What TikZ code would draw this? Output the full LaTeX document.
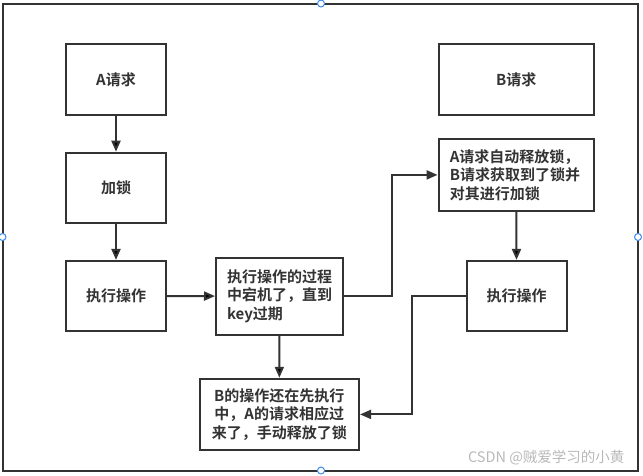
\documentclass[tikz,border=0pt]{standalone}
\usepackage{fontspec}
\newfontfamily\cjk{Noto Sans CJK SC}[BoldFont={* Bold}]
\usepackage{xcolor}
\usepackage{tikz}
\usetikzlibrary{arrows.meta}
\definecolor{ink}{HTML}{333333}
\definecolor{handle}{HTML}{3C8CF0}

\begin{document}
\begin{tikzpicture}[x=1pt,y=-1pt,
		box/.style={draw=ink,line width=2pt,inner sep=0pt,minimum width=100pt,minimum height=70pt,
			text=ink,font=\cjk\bfseries\fontsize{15}{18.4}\selectfont},
		knob/.style={draw=handle,fill=white,line width=1pt,circle,inner sep=0pt,minimum size=7pt}]
		\useasboundingbox (0,0) rectangle (643,475);
		\draw[ink,line width=2pt] (2.5,3.5) rectangle (638,470.5);
		%
		\node[box,minimum height=71pt] (Areq) at (116,79.8) {A请求};
		\node[box] (lock) at (116,187.7) {加锁};
		\node[box] (Aexec) at (116,295.9) {执行操作};
		\node[box,minimum width=127pt,minimum height=77pt,text width=105pt,align=left] (crash) at (279.5,296.2)
			{执行操作的过程\\中宕机了，直到\\key过期};
		\node[box,minimum width=159.5pt,minimum height=71.3pt,align=center] (unlock) at (279.3,414.4)
			{B的操作还在先执行\\中，A的请求相应过\\来了，手动释放了锁};
		\node[box,minimum width=155.5pt,minimum height=71pt] (Breq) at (516.3,79.8) {B请求};
		\node[box,minimum width=155.5pt,minimum height=72.3pt,text width=133pt,align=left] (Block) at (516.3,174.9)
			{A请求自动释放锁，\\B请求获取到了锁并\\对其进行加锁};
		\node[box] (Bexec) at (516.6,295.9) {执行操作};
		%
		\path[draw=ink,line width=2pt,->,>={Triangle[length=11pt,width=9pt]}]
		(Areq) edge (lock)
		(lock) edge (Aexec)
		(Aexec) edge (crash)
		(crash) edge (unlock)
		(Block) edge (Bexec);
		\draw[ink,line width=2pt,-{Triangle[length=11pt,width=9pt]}]
		(crash.east) -- ++(47.6,0) |- (Block.west);
		\draw[ink,line width=2pt,-{Triangle[length=11pt,width=9pt]}]
		(Bexec.west) -- ++(-53.7,0) |- (unlock.east);
		%
		\node[text=gray!55,font=\cjk\fontsize{14.5}{18}\selectfont,anchor=east] (mark) at (628,458) {CSDN @贼爱学习的小黄};
		\node[knob] (n) at (321,3.5) {};
		\node[knob] (s) at (321,470.5) {};
		\node[knob] (w) at (2.5,237) {};
		\node[knob] (e) at (638,237) {};
\end{tikzpicture}
\end{document}
